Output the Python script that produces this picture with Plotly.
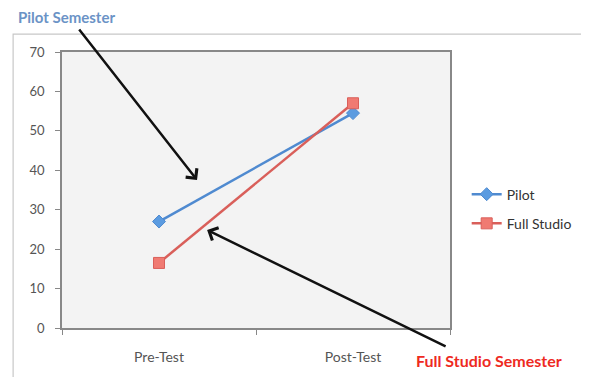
import plotly.graph_objects as go

categories = ["Pre-Test", "Post-Test"]
pilot = [27, 54.5]
full_studio = [16.5, 57]
y_ticks = [0, 10, 20, 30, 40, 50, 60, 70]

fig = go.Figure()
fig.add_trace(go.Scatter(
    x=categories, y=pilot, name="Pilot", mode="lines+markers", legendgroup="a",
    line=dict(color="#4f8ad0", width=2.5),
    marker=dict(symbol="diamond", size=10, color="#5b9be0", line=dict(color="#4f8ad0", width=1)),
))
fig.add_trace(go.Scatter(
    x=categories, y=full_studio, name="Full Studio", mode="lines+markers", legendgroup="b",
    line=dict(color="#d95f5a", width=2.5),
    marker=dict(symbol="square", size=11, color="#f07a72", line=dict(color="#d95f5a", width=1)),
))

font_family = "Lato, Open Sans, sans-serif"
fig.update_layout(
    width=589, height=377,
    margin=dict(l=54, r=147, t=44, b=57),
    paper_bgcolor="white",
    plot_bgcolor="#f3f3f3",
    font=dict(family=font_family, size=13, color="#444444"),
    showlegend=True,
    legend=dict(x=1.043, y=0.431, xanchor="left", yanchor="middle",
                bgcolor="rgba(0,0,0,0)", font=dict(size=14, color="#333333"),
                tracegroupgap=8, itemwidth=30),
    xaxis=dict(type="category", range=[-0.5, 1.5], tickson="boundaries", ticks="outside", ticklen=5,
               tickcolor="#888888", showline=True, linecolor="#888888", linewidth=1.5,
               mirror=True, showgrid=False, tickfont=dict(size=14, color="#555555"),
               ticklabelstandoff=15, fixedrange=True),
    yaxis=dict(range=[0, 70], tickvals=y_ticks, ticks="outside", ticklen=5,
               tickcolor="#888888", showline=True, linecolor="#888888", linewidth=1.5,
               mirror=True, showgrid=False, zeroline=False,
               tickfont=dict(size=13, color="#555555"), ticklabelstandoff=8),
)

# outer chart border
fig.add_shape(type="rect", xref="paper", yref="paper",
              x0=-0.126, x1=1.45, y0=-0.3, y1=1.065,
              line=dict(color="#c8c8c8", width=1.2), layer="below")

fig.add_annotation(text="<b>Pilot Semester</b>", xref="paper", yref="paper",
                   x=-0.118, y=1.127, xanchor="left", yanchor="middle",
                   showarrow=False, font=dict(size=15, color="#6b93c6", family=font_family))
fig.add_annotation(text="<b>Full Studio Semester</b>", xref="paper", yref="paper",
                   x=0.906, y=-0.116, xanchor="left", yanchor="middle",
                   showarrow=False, font=dict(size=16, color="#ee2a1f", family=font_family))

# arrows
fig.add_annotation(xref="paper", yref="paper", x=0.348, y=0.536, ax=-119, ay=-152,
                   showarrow=True, arrowhead=4, arrowsize=1.1, arrowwidth=2.5,
                   arrowcolor="#111111", text="")
fig.add_annotation(xref="paper", yref="paper", x=0.374, y=0.355, ax=240, ay=117,
                   showarrow=True, arrowhead=4, arrowsize=1.1, arrowwidth=2.5,
                   arrowcolor="#111111", text="")

fig.write_html("out.html")
